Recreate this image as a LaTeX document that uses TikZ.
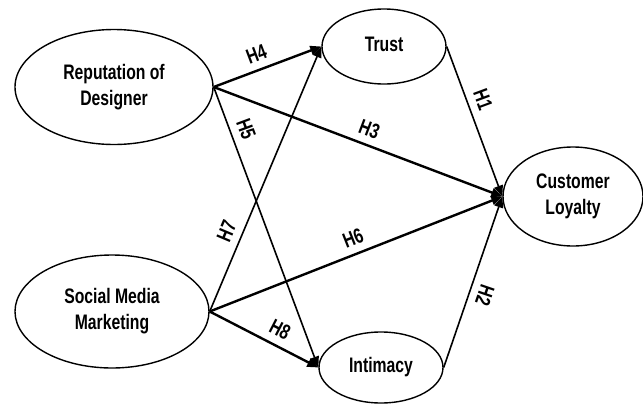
\documentclass[tikz,border=0pt]{standalone}
\usepackage{fontspec}
\setmainfont{Liberation Sans}
\usetikzlibrary{arrows.meta,shapes.geometric}
\newcommand{\narrow}[1]{\scalebox{0.75}[1]{\begin{tabular}{@{}c@{}}#1\end{tabular}}}
\tikzset{
  construct/.style={ellipse,draw,line width=1.4pt,inner sep=0pt,align=center,
    font=\fontsize{21}{26}\selectfont\bfseries},
  hyp/.style={-{Triangle[length=11pt,width=9pt]},line width=2.4pt},
  hypthin/.style={-{Triangle[length=11pt,width=9pt]},line width=1.6pt},
  hlabel/.style={sloped,font=\fontsize{21}{22}\selectfont\bfseries,inner sep=1pt}
}
\begin{document}
\begin{tikzpicture}[x=1pt,y=-1pt]
  \useasboundingbox (0,0) rectangle (643,405);
  % constructs
  \node[construct,minimum width=198pt,minimum height=115pt] (rep) at (114,87) {\narrow{Reputation of\\Designer}};
  \node[construct,minimum width=194pt,minimum height=113pt] (smm) at (112,311.5) {\narrow{Social Media\\Marketing}};
  \node[construct,minimum width=124pt,minimum height=75pt] (trust) at (384,46.5) {\narrow{Trust}};
  \node[construct,minimum width=124pt,minimum height=71pt] (intim) at (381,367.5) {\narrow{Intimacy}};
  \node[construct,minimum width=140pt,minimum height=99pt] (loyal) at (573,196.5) {\narrow{Customer\\Loyalty}};
  % hypotheses
  \draw[hyp] (rep.east) -- node[hlabel,above,pos=0.45] {\narrow{H4}} (trust.west);
  \draw[hypthin] (rep.east) -- node[hlabel,above,pos=0.17] {\narrow{H5}} (intim.west);
  \draw[hyp] (rep.east) -- node[hlabel,above,pos=0.52] {\narrow{H3}} (loyal.west);
  \draw[hypthin] (smm.east) -- node[hlabel,above,pos=0.28] {\narrow{H7}} (trust.west);
  \draw[hyp] (smm.east) -- node[hlabel,above,pos=0.51] {\narrow{H6}} (loyal.west);
  \draw[hyp] (smm.east) -- node[hlabel,above,pos=0.58] {\narrow{H8}} (intim.west);
  \draw[hypthin] (trust.east) -- node[hlabel,above,pos=0.39] {\narrow{H1}} (loyal.west);
  \draw[hypthin,{Triangle[length=11pt,width=9pt]}-] (loyal.west) -- node[hlabel,allow upside down,above,pos=0.55] {\narrow{H2}} (intim.east);
\end{tikzpicture}
\end{document}
